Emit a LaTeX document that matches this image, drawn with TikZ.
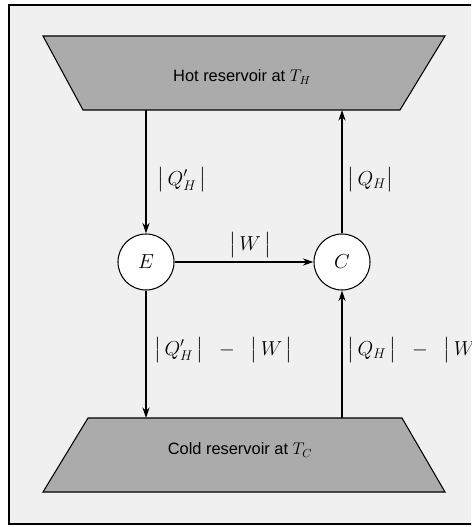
\documentclass[tikz,border=0pt]{standalone}
\usepackage{amsmath}
\usepackage{fontspec}
\setsansfont{Liberation Sans}
\usetikzlibrary{positioning,arrows.meta,calc}

\begin{document}
\begin{tikzpicture}[x=0.3mm, y=-0.3mm,
    res/.style={fill=black!33, draw, line width=0.9pt},
    eng/.style={circle, draw, line width=0.9pt, fill=white, minimum size=16.8mm,
                inner sep=0pt, font=\LARGE},
    flow/.style={-{Stealth[length=9pt,width=6pt]}, line width=0.9pt},
    lbl/.style={font=\LARGE, inner sep=1pt},
    restext/.style={font=\sffamily\fontsize{14}{16}\selectfont},
  ]
  \useasboundingbox (0,0) rectangle (471,527);
  \clip (0,0) rectangle (471,527);
  % frame and background
  \fill[black!6] (9,5) rectangle (490,524);
  \draw[line width=1pt] (490,5) -- (9,5) -- (9,524) -- (490,524);

  % reservoirs
  \path[res] (43,36) -- (445,36) -- (400,110) -- (83,110) -- cycle;
  \coordinate (hotB) at (240,110);
  \node[restext] (hot) at (242,77) {Hot reservoir at $T_H$};
  \path[res] (88,418) -- (402,418) -- (445,492) -- (43,492) -- cycle;
  \coordinate (coldT) at (240,418);
  \node[restext] (cold) at (240,450) {Cold reservoir at $T_C$};

  % engines
  \node[eng] (E) at (146,262) {$E$};
  \node[eng] (C) at (342,262) {$C$};

  % flows
  \draw[flow] (E |- hotB) -- (E);
  \draw[flow] (C) -- (C |- hotB);
  \draw[flow] (E) -- (C);
  \draw[flow] (E) -- (E |- coldT);
  \draw[flow] (C |- coldT) -- (C);

  % labels
  \node[lbl] (qhp) at (182,180) {$\bigl|\,Q'_H\,\bigr|$};
  \node[lbl, anchor=west] (qh) at (346,180) {$\bigl|\,Q_H\bigr|$};
  \node[lbl] (w) at (250,245) {$\bigl|\,W\,\bigr|$};
  \node[lbl, anchor=west] (qhpw) at (153,350)
    {$\bigl|\,Q'_H\,\bigr| \;\;-\;\; \bigl|\,W\,\bigr|$};
  \node[lbl, anchor=west] (qhw) at (346,350)
    {$\bigl|\,Q_H\,\bigr| \;\;-\;\; \bigl|\,W\,\bigr|$};
\end{tikzpicture}
\end{document}
